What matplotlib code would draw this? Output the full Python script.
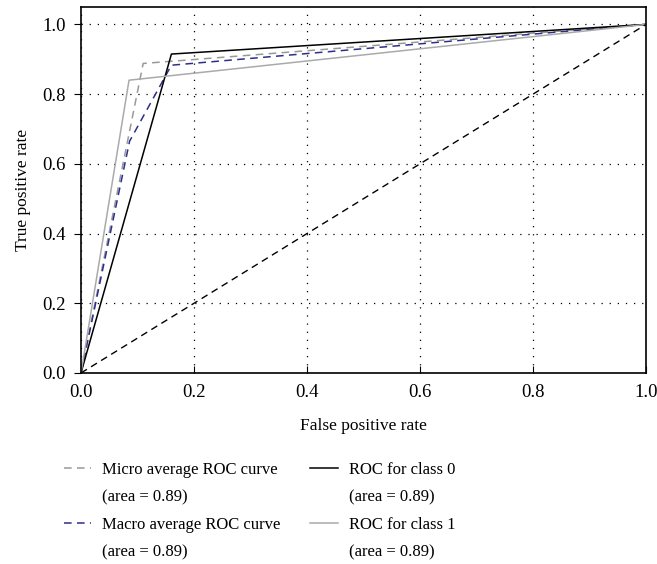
import matplotlib
matplotlib.use('Agg')
import matplotlib.pyplot as plt
from matplotlib.lines import Line2D

plt.rcParams['font.family'] = ['Liberation Serif', 'DejaVu Serif']

# ROC points
fpr_micro = [0.0, 0.11, 1.0]
tpr_micro = [0.0, 0.888, 1.0]
fpr_macro = [0.0, 0.086, 0.16, 1.0]
tpr_macro = [0.0, 0.665, 0.883, 1.0]
fpr_c0 = [0.0, 0.16, 1.0]
tpr_c0 = [0.0, 0.915, 1.0]
fpr_c1 = [0.0, 0.085, 1.0]
tpr_c1 = [0.0, 0.84, 1.0]
names = ['Micro average ROC curve', 'Macro average ROC curve',
         'ROC for class 0', 'ROC for class 1']
areas = [0.89, 0.89, 0.89, 0.89]
ticks = [0.0, 0.2, 0.4, 0.6, 0.8, 1.0]

fig = plt.figure(figsize=(6.57, 5.64), dpi=100)
ax = fig.add_axes([0.1233, 0.3387, 0.86, 0.6489])

dash = (0, (5, 3.5))
lines = []
lines += ax.plot(fpr_micro, tpr_micro, linestyle=dash, color='#999999', lw=1.1)
lines += ax.plot(fpr_macro, tpr_macro, linestyle=dash, color='#2e2e8c', lw=1.1)
lines += ax.plot(fpr_c0, tpr_c0, '-', color='black', lw=1.1)
lines += ax.plot(fpr_c1, tpr_c1, '-', color='#aaaaaa', lw=1.1)
ax.plot([0, 1], [0, 1], linestyle=dash, color='black', lw=1.0)

ax.set_xlim(0, 1)
ax.set_ylim(0, 1.05)
ax.set_xticks(ticks)
ax.set_yticks(ticks)
ax.set_xticklabels([f'{t:.1f}' for t in ticks], fontsize=13.5)
ax.set_yticklabels([f'{t:.1f}' for t in ticks], fontsize=13.5)
ax.tick_params(axis='x', direction='in', length=5, pad=8)
ax.tick_params(axis='y', direction='out', length=5, pad=6)
ax.grid(True, linestyle=(0, (1, 5.5)), color='black', lw=0.9)
ax.set_xlabel('False positive rate', fontsize=12.5, labelpad=12)
ax.set_ylabel('True positive rate', fontsize=12.5, labelpad=8)
for s in ax.spines.values():
    s.set_linewidth(1.2)

# each entry as a line row plus a blank-handle row for the area text
blank = Line2D([], [], color='none')
handles, texts = [], []
for ln, nm, a in zip(lines, names, areas):
    handles += [ln, blank]
    texts += [nm, f'(area = {a:.2f})']

fig.legend(handles, texts, loc='upper left', bbox_to_anchor=(0.097, 0.181),
           ncol=2, frameon=False, fontsize=12, handlelength=1.65,
           handletextpad=0.65, columnspacing=1.8, labelspacing=0.68,
           borderpad=0, borderaxespad=0)

fig.savefig('out.png', dpi=100)
